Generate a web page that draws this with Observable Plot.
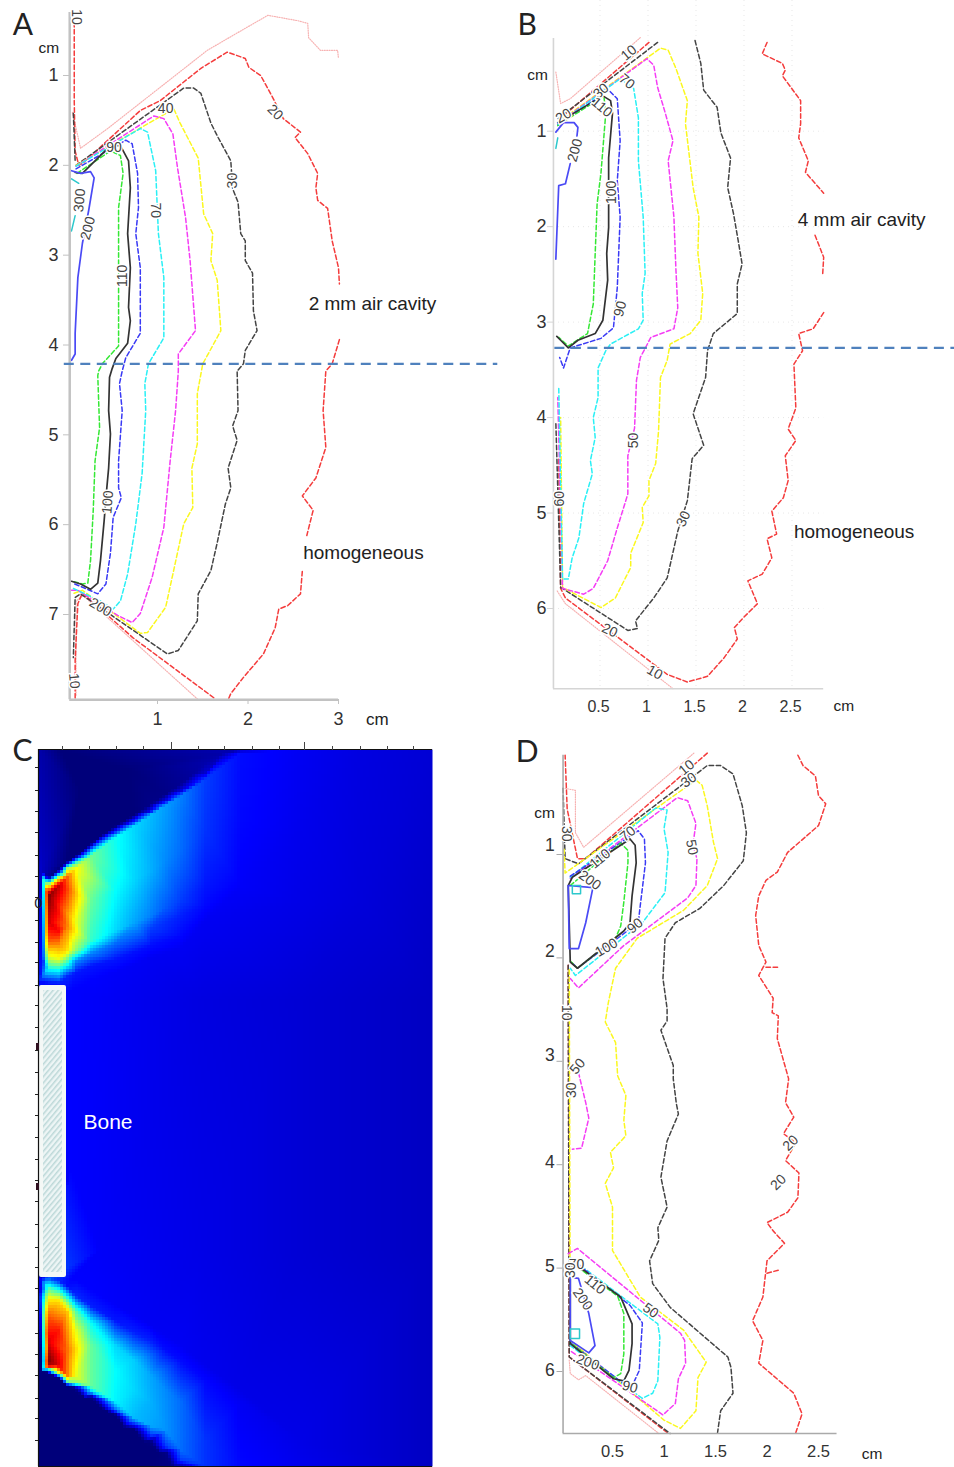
<!DOCTYPE html>
<html><head><meta charset="utf-8">
<script src="https://cdn.jsdelivr.net/npm/d3@7"></script>
<script src="https://cdn.jsdelivr.net/npm/@observablehq/plot@0.6"></script>
<style>html,body{margin:0;padding:0;background:#fff}#page{position:relative;width:954px;height:1467px;overflow:hidden}#page svg{position:absolute;background:transparent;max-width:none}</style>
</head><body><div id="page"></div>
<script>
// Isodose contours, [level, [[x cm, y cm], ...]]
const contoursA = [
 [10,[[.06,1.41],[.15,1.81],[.45,1.59],[1.55,.72],[1.84,.55],[2.22,.33],[2.55,.39],[2.66,.42],[2.67,.58],[2.8,.72],[2.99,.72],[3,.81]]],
 [10,[[.1,7.9],[.1,6.85],[.18,6.79],[1.44,7.94]]],
 [20,[[.08,.41],[.08,1.28],[.09,1.84],[.13,2],[.17,1.98],[.81,1.39],[1.03,1.28],[1.48,.92],[1.77,.74],[1.97,.81],[2.01,.91],[2.14,1],[2.27,1.24],[2.39,1.48],[2.58,1.63],[2.52,1.69],[2.66,1.87],[2.77,2.09],[2.75,2.25],[2.77,2.39],[2.88,2.48],[2.93,2.84],[3,3.14],[3.01,3.32]]],
 [20,[[3.01,3.94],[2.93,4.21],[2.86,4.29],[2.83,4.73],[2.86,5.14],[2.75,5.48],[2.6,5.68],[2.72,5.84],[2.65,6.12]]],
 [20,[[2.6,6.52],[2.58,6.77],[2.44,6.9],[2.34,6.94],[2.3,7.15],[2.17,7.44],[1.95,7.7],[1.81,7.88],[1.78,7.95]]],
 [20,[[.09,7.93],[.09,7.51],[.12,6.88],[.17,6.76],[.73,7.26],[1.64,7.94]]],
 [30,[[.07,1.42],[.09,1.95]]],
 [30,[[.1,2],[1.29,1.14],[1.4,1.14],[1.48,1.2],[1.59,1.53],[1.67,1.69],[1.81,1.95],[1.83,2.26],[1.89,2.41],[1.92,2.76],[1.97,2.84],[1.97,3.06],[2.05,3.2],[2.06,3.62],[2.1,3.84],[1.97,4.06],[1.95,4.21],[1.88,4.29],[1.89,4.73],[1.83,4.9],[1.88,5.06],[1.78,5.37],[1.81,5.59],[1.75,5.77],[1.66,6.2],[1.59,6.51],[1.45,6.77],[1.44,7.07],[1.23,7.4],[1.11,7.44],[.15,6.77],[.09,6.81],[.07,7.48]]],
 [40,[[.1,2],[1.18,1.37],[1.25,1.53],[1.45,1.92],[1.51,2.54],[1.61,2.76],[1.59,3.06],[1.66,3.28],[1.7,3.84],[1.5,4.21],[1.44,4.54],[1.44,5.1],[1.38,5.37],[1.39,5.81],[1.29,5.99],[1.17,6.55],[1.09,6.92],[.89,7.2],[.81,7.21],[.17,6.73],[.06,6.77]]],
 [50,[[.1,2.01],[.96,1.45],[1.07,1.48],[1.17,1.65],[1.22,2.02],[1.31,2.58],[1.36,3.06],[1.42,3.84],[1.23,4.1],[1.23,4.29],[1.2,4.73],[1.14,5.29],[1.07,6.03],[.94,6.59],[.81,6.99],[.72,7.09],[.56,7.01],[.12,6.73],[.05,6.73]]],
 [70,[[.1,2.01],[.81,1.59],[.89,1.63],[.98,2.06],[1.01,2.76],[1.07,3.25],[1.07,3.92],[.9,4.21],[.86,4.43],[.87,4.73],[.83,5.43],[.76,5.99],[.67,6.55],[.59,6.85],[.51,6.94],[.37,6.85],[.07,6.71]]],
 [90,[[.1,2.04],[.65,1.72],[.72,1.76],[.78,2.09],[.79,2.47],[.76,2.76],[.81,3.14],[.81,3.87],[.65,4.14],[.61,4.29],[.58,4.43],[.61,4.73],[.57,5.29],[.57,5.59],[.6,5.7],[.51,5.92],[.48,6.32],[.43,6.66],[.34,6.77],[.18,6.7],[.06,6.65]]],
 [110,[[.11,2.09],[.48,1.84],[.59,1.89],[.62,2.09],[.57,2.47],[.57,3.14],[.57,4.01],[.39,4.21],[.35,4.29],[.34,4.34],[.36,4.92],[.31,5.29],[.29,5.84],[.26,6.4],[.23,6.65],[.17,6.66],[.06,6.63]]],
 [100,[[.09,2.08],[.17,2.09],[.48,1.78],[.59,1.78],[.68,1.95],[.7,2.25],[.67,2.76],[.7,3.14],[.68,3.58],[.7,3.73],[.67,3.98],[.54,4.15],[.5,4.26],[.47,4.36],[.46,4.73],[.48,4.99],[.46,5.37],[.44,5.59],[.41,5.96],[.37,6.4],[.34,6.65],[.26,6.72],[.15,6.66],[.05,6.63]]],
 [200,[[.05,2.06],[.15,2.09],[.26,2.07],[.3,2.14],[.24,2.5],[.17,2.87],[.12,3.25],[.09,3.87],[.09,4.1],[.05,4.17]]],
 [300,[[.05,2.15],[.13,2.2]]],
 [300,[[.09,2.56],[.05,2.73]]]
];
const contoursB = [
 [10,[[.92,.02],[.19,.66],[.09,.71],[.04,.38]]],
 [10,[[1.26,6.84],[.14,5.95],[.05,5.81]]],
 [20,[[2.24,.07],[2.19,.19],[2.4,.29],[2.43,.36],[2.4,.42],[2.59,.68],[2.59,.92],[2.57,1.07],[2.67,1.31],[2.64,1.43],[2.83,1.65]]],
 [20,[[2.74,2.09],[2.83,2.32],[2.82,2.49]]],
 [20,[[2.83,2.9],[2.72,3.07],[2.57,3.12],[2.61,3.3],[2.52,3.44],[2.54,3.9],[2.46,4.12],[2.54,4.24],[2.43,4.4],[2.46,4.66],[2.41,4.84],[2.29,4.98],[2.34,5.22],[2.24,5.27],[2.29,5.47],[2.19,5.64],[2.04,5.71],[2.14,5.95],[1.99,6.1],[1.9,6.2],[1.93,6.32],[1.79,6.52],[1.62,6.71],[1.41,6.77],[1.2,6.69],[.14,5.89],[.09,5.79],[.07,4.42]]],
 [20,[[1.01,.07],[.06,.89]]],
 [30,[[1.49,.05],[1.55,.29],[1.58,.57],[1.72,.75],[1.76,1.02],[1.86,1.28],[1.83,1.59],[1.89,1.86],[1.94,2.15],[1.98,2.39],[1.93,2.6],[1.93,2.91],[1.68,3.12],[1.62,3.3],[1.6,3.58],[1.47,3.96],[1.58,4.29],[1.46,4.43],[1.41,4.87],[1.31,5.19],[1.2,5.68],[1.06,5.89],[.87,6.13],[.89,6.21],[.79,6.23],[.11,5.79],[.09,5.78],[.04,4.05]]],
 [30,[[1.1,.07],[.06,.87]]],
 [40,[[.06,.91],[1.13,.13],[1.21,.15],[1.29,.34],[1.41,.68],[1.39,.92],[1.47,1.59],[1.53,1.9],[1.52,2.28],[1.57,2.7],[1.55,2.98],[1.44,3.12],[1.23,3.23],[1.2,3.4],[1.13,3.58],[1.11,4.14],[1.08,4.48],[1.01,4.66],[1.01,4.82],[.94,4.94],[.95,5.1],[.82,5.42],[.82,5.57],[.66,5.89],[.51,5.99],[.11,5.78],[.09,4]]],
 [50,[[.06,.92],[.99,.24],[1.06,.31],[1.1,.54],[1.18,.81],[1.26,1.1],[1.21,1.31],[1.27,1.9],[1.29,2.43],[1.31,2.85],[1.27,3.07],[1.03,3.16],[.92,3.37],[.88,3.61],[.86,4.11],[.79,4.4],[.79,4.8],[.67,5.19],[.58,5.5],[.43,5.79],[.33,5.85],[.11,5.79],[.06,3.79]]],
 [70,[[.06,.93],[.71,.45],[.85,.55],[.9,.86],[.9,1.31],[.95,1.9],[.97,2.49],[.94,2.7],[.95,2.98],[.9,3.07],[.61,3.23],[.56,3.3],[.48,3.48],[.48,3.79],[.43,4],[.45,4.21],[.4,4.45],[.42,4.59],[.33,4.9],[.28,5.26],[.21,5.47],[.17,5.69],[.11,5.69],[.07,3.67]]],
 [90,[[.06,.94],[.59,.57],[.68,.66],[.71,1.1],[.68,1.52],[.71,1.9],[.68,2.64],[.64,3.06],[.51,3.17],[.19,3.27],[.12,3.48],[.08,3.37]]],
 [110,[[.06,.94],[.54,.63],[.56,.81],[.51,1.44],[.47,1.76],[.45,2.28],[.43,2.81],[.37,3.12],[.17,3.25],[.07,3.16]]],
 [100,[[.06,.91],[.53,.63],[.61,.68],[.63,.81],[.59,1.28],[.59,2.01],[.57,2.28],[.58,2.56],[.53,2.98],[.45,3.12],[.27,3.19],[.17,3.27],[.09,3.19],[.05,3.15]]],
 [200,[[.04,1.01],[.12,.91],[.23,.91],[.27,.96],[.26,1.05]]],
 [200,[[.19,1.34],[.14,1.55],[.07,1.57],[.04,2.34]]],
 [300,[[.04,1.18],[.06,1.07]]]
];
const contoursD = [
 [10,[[.04,.36],[.14,.38],[.14,.79],[.22,.93],[1.29,.02]]],
 [10,[[.08,5.89],[.09,6.02],[.17,6.08],[.24,6.04],[.95,6.6]]],
 [20,[[2.3,.04],[2.35,.14],[2.47,.24],[2.5,.43],[2.57,.51],[2.5,.72],[2.2,.98],[2.1,1.17],[1.99,1.25],[1.92,1.4],[1.89,1.59],[1.92,1.88],[1.99,2.04],[1.92,2.17],[2.06,2.39],[2.05,2.53],[2.11,2.56],[2.1,2.78],[2.21,3.17],[2.18,3.4],[2.26,3.54],[2.16,3.7],[2.28,3.79],[2.18,3.96],[2.31,4.08],[2.3,4.32],[2.2,4.46],[2,4.56],[2.06,4.64],[2.17,4.76],[2,4.93],[1.96,5.28],[1.86,5.51],[1.96,5.7],[1.92,5.92],[2.26,6.21],[2.34,6.41],[2.28,6.59]]],
 [20,[[1.99,2.09],[2.11,2.09]]],
 [20,[[2,5.05],[2.11,5.02]]],
 [20,[[1.42,.02],[.24,1.04],[.16,1.04],[.06,.56],[.04,.04]]],
 [20,[[.07,2.07],[.08,5.86],[1.03,6.59]]],
 [30,[[.02,.36],[.04,1.04],[.17,1.09],[1.42,.14],[1.55,.14],[1.67,.22],[1.76,.53],[1.8,.79],[1.77,1.06],[1.58,1.3],[1.35,1.52],[1.11,1.66],[1.01,1.81],[.99,2.2],[1.03,2.49],[1.03,2.61],[.97,2.7],[1.09,3.04],[1.09,3.17],[1.12,3.41],[1.14,3.51],[1.03,3.77],[.97,4.12],[1.03,4.41],[.94,4.61],[.95,4.73],[.86,4.93],[.89,5.15],[1.06,5.38],[1.62,5.86],[1.65,5.96],[1.67,6.21],[1.55,6.38],[1.52,6.59]]],
 [30,[[.07,2.07],[.08,5.86],[1.06,6.6]]],
 [40,[[.03,.95],[.04,1.18],[1.31,.28],[1.37,.33],[1.42,.53],[1.48,.88],[1.52,1.04],[1.42,1.3],[1.19,1.54],[.74,1.81],[.53,2.1],[.46,2.43],[.43,2.62],[.53,2.82],[.55,3.14],[.63,3.33],[.61,3.57],[.63,3.72],[.48,3.88],[.51,4.03],[.43,4.18],[.5,4.41],[.5,4.83],[.77,5.28],[1.19,5.6],[1.41,5.91],[1.33,6.06],[1.31,6.38],[1.16,6.55],[1,6.47],[.09,5.7],[.08,2.1]]],
 [50,[[.09,1.23],[1.13,.45],[1.23,.48],[1.31,.7],[1.28,.91],[1.32,1.04],[1.31,1.3],[1.23,1.42],[.61,1.88],[.17,2.29],[.09,2.2]]],
 [50,[[.17,3.11],[.24,3.4],[.27,3.55],[.2,3.84],[.11,3.85]]],
 [50,[[.07,4.86],[.16,4.81],[1.16,5.63],[1.2,5.7],[1.21,5.92],[1.14,6.07],[1.11,6.31],[.99,6.42],[.09,5.8]]],
 [70,[[.09,1.22],[.92,.55],[1.03,.57],[1,.75],[1.04,.98],[1.01,1.37],[.79,1.66],[.14,2.17],[.09,2.1]]],
 [70,[[.09,4.9],[.94,5.54],[.96,5.67],[.94,6.09],[.89,6.21],[.79,6.26],[.09,5.75]]],
 [90,[[.09,1.21],[.75,.77],[.81,.85],[.82,1.08],[.77,1.49],[.75,1.66],[.55,1.81],[.16,2.1],[.09,2.03]]],
 [90,[[.12,4.93],[.67,5.36],[.79,5.53],[.76,5.99],[.7,6.12],[.61,6.12],[.09,5.72]]],
 [110,[[.09,1.3],[.58,.89],[.65,.96],[.65,1.08],[.61,1.46],[.58,1.69],[.53,1.81],[.16,2.1],[.09,2.03]]],
 [110,[[.16,4.99],[.55,5.27],[.61,5.44],[.61,5.83],[.58,6.02],[.51,6.06],[.09,5.72]]],
 [100,[[.07,1.3],[.11,1.22],[.67,.85],[.72,.91],[.73,1.08],[.69,1.4],[.67,1.66],[.61,1.74],[.16,2.1],[.09,2.04],[.07,1.3]]],
 [100,[[.09,4.96],[.22,5.02],[.58,5.28],[.69,5.54],[.69,5.73],[.66,5.99],[.61,6.09],[.51,6.07],[.09,5.73],[.09,4.96]]],
 [200,[[.07,1.3],[.31,1.32],[.24,1.66],[.17,1.91],[.08,1.91],[.07,1.3]]],
 [200,[[.09,5.09],[.17,5.1],[.27,5.44],[.33,5.75],[.27,5.82],[.09,5.7],[.09,5.09]]],
 [300,[[.11,1.3],[.19,1.3],[.19,1.38],[.11,1.38],[.11,1.3]]],
 [300,[[.09,5.59],[.18,5.59],[.18,5.68],[.09,5.68],[.09,5.59]]]
];
// Contour labels [text, x, y, rotation]
const labelsA = [["10",.1,.35,90],["20",2.3,1.41,45],["30",1.83,2.17,-90],["40",1.09,1.37,0],["90",.52,1.8,0],["70",.98,2.5,90],["110",.61,3.23,-90],["300",.14,2.39,-85],["200",.23,2.7,-75],["100",.45,5.75,-85],["200",.37,6.92,30],["10",.08,7.74,85]];
const labelsB = [["10",.8,.18,-40],["70",.78,.48,40],["20",.12,.84,-30],["30",.51,.58,-40],["110",.52,.75,40],["200",.24,1.2,-75],["100",.62,1.64,-90],["90",.71,2.86,-75],["50",.85,4.24,-90],["30",1.37,5.06,-65],["20",.6,6.23,25],["10",1.07,6.67,30],["60",.08,4.85,-90]];
const labelsD = [["10",1.22,.16,-40],["30",1.24,.28,-35],["50",1.27,.93,80],["70",.65,.8,-40],["110",.38,1.04,-40],["200",.28,1.25,35],["90",.72,1.69,-40],["100",.44,1.9,-30],["30",.05,.8,90],["10",.05,2.53,90],["50",.16,3.05,-50],["30",.1,3.28,-90],["20",2.23,3.79,-45],["20",2.11,4.17,-45],["70",.15,4.97,0],["30",.09,5.02,-90],["110",.33,5.16,40],["200",.21,5.3,55],["50",.87,5.41,35],["200",.26,5.91,20],["90",.67,6.15,15]];
// Notes [text, x, y, size, anchor]
const notesA = [["A",-.6,.44,30,"start"],["cm",-.2,.69,15.5,"middle"],["2 mm air cavity",2.67,3.54,19,"start"],["homogeneous",2.61,6.31,19,"start"],["cm",3.43,8.17,17,"middle"]];
const notesB = [["B",-.36,-.11,30,"start"],["cm",-.15,.416,15.5,"middle"],["4 mm air cavity",2.56,1.93,19,"start"],["homogeneous",2.52,5.2,19,"start"],["cm",3.04,7.02,15.5,"middle"]];
const notesD = [["D",-.44,.01,30,"start"],["cm",-.16,.6,15.5,"middle"],["cm",3.02,6.8,15.5,"middle"]];
const ticksAy=[1,2,3,4,5,6,7], ticksAx=[1,2,3];
const ticksBy=[1,2,3,4,5,6], ticksBx=[.5,1,1.5,2,2.5];
const ticksDy=[1,2,3,4,5,6], ticksDx=[.5,1,1.5,2,2.5];
const tickLabelPosDy=[.913,1.938,2.944,3.979,4.985,5.99];
const cavityA=4.21, cavityB=3.27;
// Panel C: sampled dose field, [grid x, grid y, relative dose]
const fieldUpper = [
[9,135,.55],[9,146,1],[9,171,.92],[9,191,.78],[9,206,.6],[9,219,.38],[9,231,.15],
[20,128,.6],[20,135,.93],[20,181,.87],[20,196,.72],[20,209,.6],[20,219,.4],[20,233,.14],
[28,119,.55],[28,127,.78],[28,176,.75],[28,201,.65],[28,213,.42],[28,226,.15],
[37,113,.45],[37,119,.62],[37,171,.6],[37,201,.5],[37,211,.25],[37,223,.13],
[52,101,.3],[52,106,.48],[52,151,.47],[52,191,.42],[52,203,.25],[52,216,.13],
[77,83,.2],[77,87,.38],[77,141,.37],[77,181,.33],[77,193,.22],[77,209,.13],
[95,72,.15],[95,76,.33],[95,130,.33],[95,173,.28],
[112,61,.1],[112,65,.3],[112,121,.29],[112,166,.24],[112,179,.17],[112,196,.12],
[127,51,.09],[127,55,.27],[127,110,.25],[127,158,.2],
[142,41,.08],[142,46,.24],[142,101,.22],[142,151,.17],[142,166,.14],[142,186,.115],
[167,23,.07],[167,29,.17],[167,81,.16],[167,136,.13],[167,156,.115],
[202,0,.05],[202,3,.12],[202,71,.115],[202,136,.105],
[262,0,.1],[262,81,.095],[262,151,.09],[322,0,.085],[322,151,.08],[394,0,.075],[394,251,.06]];
const fieldAboveBeam = [[22,0,0],[0,0,.04],[9,128,.02],[20,120,0],[28,112,0],[37,106,0],[45,100,0],[52,94,0],[65,84,0],[77,76,0],[95,65,0],[112,54,.01],[127,44,.01],[142,34,.02],[155,24,.03],[167,13,.04],[185,3,.04],[40,40,0],[90,20,0],[2,121,.06],[0,231,.12],[4,211,.14]];
const fieldBetween = [[17,236,.12],[32,241,.11],[32,320,.11],[32,420,.11],[32,528,.11],[52,230,.11],[60,350,.105],[60,500,.105],[77,222,.105],[112,208,.1],[142,198,.1],[167,170,.1],[82,251,.1],[82,451,.1],[100,530,.1],[162,251,.085],[162,501,.09],[262,251,.075],[262,501,.075],[394,501,.06],[394,717,.06]];
const fieldLower = [
[9,528,.2],[9,538,.45],[9,548,.62],[9,566,.78],[9,591,.9],[9,609,1],[9,616,.95],[9,619,.4],[9,623,0],
[20,531,.15],[20,541,.42],[20,551,.65],[20,581,.85],[20,616,.9],[20,623,.6],[20,628,0],
[28,536,.12],[28,548,.42],[28,561,.68],[28,601,.77],[28,626,.75],[28,631,.5],[28,636,0],
[37,530,.11],[37,546,.15],[37,561,.45],[37,581,.6],[37,626,.6],[37,633,.5],[37,638,.02],
[52,540,.11],[52,556,.14],[52,573,.38],[52,596,.47],[52,636,.47],[52,642,.3],[52,647,0],
[77,555,.105],[77,571,.13],[77,596,.33],[77,621,.37],[77,652,.36],[77,660,.22],[77,665,0],
[95,582,.14],[95,610,.32],[95,640,.33],[95,668,.3],[95,674,.15],[95,679,0],
[112,575,.1],[112,591,.14],[112,626,.28],[112,651,.29],[112,676,.28],[112,686,.15],[112,691,.01],
[127,600,.12],[127,640,.25],[127,680,.26],[127,697,.16],[127,702,.01],
[142,595,.1],[142,611,.12],[142,651,.22],[142,700,.22],[142,710,.17],[142,716,.05],
[167,615,.095],[167,631,.115],[167,691,.16],[167,717,.16],[202,640,.09],[202,651,.1],[202,717,.115],[262,691,.09],[262,717,.095]];
const fieldBelowBeam = [[0,717,0],[0,541,.02],[2,621,0],[45,648,0],[65,660,0],[85,677,0],[105,692,0],[120,703,0],[82,705,0],[62,717,0],[112,717,0],[134,717,.01],[0,528,.05]];
const ticksCx=[24,51,78,105,133,160,186,214,241,266,294,322,349,375];
const ticksCxLong=[133,266];
const ticksCy=[18,41,62,83,106,127,148,171,193,213,236,256,278,301,323,345,366,388,410,431,452,475,498,518,539,561,584,605,626,649,669,691];
const jetStops=[0,.11,.37,.62,.87,1];
const jetColors=["#00007a","#0000ff","#00ffff","#ffff00","#ff0000","#7a0000"];

const dash="4.5,2.6";
const styles={
 10:{stroke:"#f7b2b2",strokeWidth:1.2,strokeDasharray:"1,1.4"},
 20:{stroke:"#f43c3c",strokeWidth:1.5,strokeDasharray:dash},
 30:{stroke:"#444",strokeWidth:1.5,strokeDasharray:dash},
 40:{stroke:"#fbf81e",strokeWidth:1.5,strokeDasharray:dash},
 50:{stroke:"#f53df5",strokeWidth:1.5,strokeDasharray:dash},
 70:{stroke:"#2af0f5",strokeWidth:1.5,strokeDasharray:dash},
 90:{stroke:"#3a3af5",strokeWidth:1.5,strokeDasharray:dash},
 100:{stroke:"#333",strokeWidth:1.7},
 110:{stroke:"#35e835",strokeWidth:1.5,strokeDasharray:dash},
 200:{stroke:"#4a4af5",strokeWidth:1.7},
 300:{stroke:"#2cc8cc",strokeWidth:1.5}
};
const font="Liberation Sans, Arial, sans-serif";
const contourMarks=c=>c.map(([lev,pts])=>Plot.line(pts,{x:d=>d[0],y:d=>d[1],...styles[lev]}));
const labelMark=l=>Plot.text(l,{x:d=>d[1],y:d=>d[2],text:d=>d[0],rotate:d=>d[3],fontSize:14,fill:"#444",stroke:"white",strokeWidth:3,paintOrder:"stroke",fontFamily:font});
const noteMarks=n=>n.map(d=>Plot.text([d],{x:e=>e[1],y:e=>e[2],text:e=>e[0],fontSize:d[3],textAnchor:d[4],fill:"#222",fontFamily:d[3]>25?"Lato, sans-serif":font}));
function place(svg,left,top,host){svg.style.left=left+"px";svg.style.top=top+"px";host.appendChild(svg);}
const page=document.getElementById("page");

function axisMarks(o){
 return [
  Plot.ruleX([o.ax],{y1:o.top,y2:o.bottom,stroke:o.axisColor,strokeWidth:o.axisWidth}),
  Plot.ruleY([o.bottom],{x1:o.ax,x2:o.right,stroke:o.axisColor,strokeWidth:o.axisWidth}),
  Plot.axisX({ticks:o.xt,tickFormat:d=>String(d),label:null,tickSize:o.xTick,stroke:o.axisColor,fill:"#333",fontSize:o.xFont,tickPadding:o.xPad,dx:o.xDx||0,fontFamily:font}),
  o.yLabels
   ? [Plot.axisY({ticks:o.yt,tickFormat:()=>"",label:null,tickSize:6,stroke:o.axisColor,fill:"none"}),
      Plot.text(o.yt,{x:o.yLabelX,y:(d,i)=>o.yLabels[i],text:d=>String(d),textAnchor:"end",fontSize:o.yFont,fill:"#333",fontFamily:font})]
   : Plot.axisY({ticks:o.yt,tickFormat:d=>String(d),label:null,tickSize:6,stroke:o.axisColor,fill:"#333",fontSize:o.yFont,tickPadding:o.yPad,fontFamily:font})
 ];
}
// Panel A
place(Plot.plot({width:500,height:735,marginLeft:69,marginTop:0,marginRight:0,marginBottom:36,
 style:{fontFamily:font,background:"transparent",overflow:"visible"},
 x:{domain:[0,3],range:[66.5,338]},y:{domain:[1,7],range:[75,614]},
 marks:[...contourMarks(contoursA),
  axisMarks({ax:.03,top:.3,bottom:7.95,right:3,axisColor:"#c2c2c2",axisWidth:2.5,xt:ticksAx,yt:ticksAy,xTick:5,xFont:18,yFont:18,xPad:8,yPad:5}),
  Plot.ruleY([cavityA],{x1:-.03,x2:4.76,stroke:"#4f81bd",strokeWidth:2.2,strokeDasharray:"10,6.5"}),
  labelMark(labelsA),...noteMarks(notesA)]}),0,0,page);
// Panel B
place(Plot.plot({width:454,height:735,marginLeft:53,marginTop:0,marginRight:0,marginBottom:47,
 style:{fontFamily:font,background:"transparent",overflow:"visible"},
 x:{domain:[0,2.5],range:[51.5,291.5]},y:{domain:[1,6],range:[130.7,608]},
 marks:[
  Plot.gridX({ticks:ticksBx,stroke:"#ddd",strokeOpacity:.7,strokeDasharray:"1,4"}),
  Plot.gridY({ticks:ticksBy,stroke:"#ddd",strokeOpacity:.7,strokeDasharray:"1,4",x2:2.83}),
  ...contourMarks(contoursB),
  axisMarks({ax:.015,top:.03,bottom:6.84,right:2.83,axisColor:"#d5d5d5",axisWidth:1.6,xt:ticksBx,yt:ticksBy,xTick:0,xFont:16,yFont:18,xPad:12,yPad:1,xDx:-1.5}),
  Plot.ruleY([cavityB],{x1:.03,x2:4.2,stroke:"#4f81bd",strokeWidth:2.2,strokeDasharray:"10,6.5"}),
  labelMark(labelsB),...noteMarks(notesB)]}),500,0,page);
// Panel C
const field=[...fieldUpper,...fieldAboveBeam,...fieldBetween,...fieldLower,...fieldBelowBeam];
const hatch=()=>{
 const defs=d3.create("svg:defs");
 const p=defs.append("pattern").attr("id","hatchBone").attr("width",4).attr("height",4).attr("patternUnits","userSpaceOnUse").attr("patternTransform","rotate(-50)");
 p.append("rect").attr("width",4).attr("height",4).attr("fill","#edf5f5");
 p.append("rect").attr("width",4).attr("height",1.5).attr("fill","#bcd8d8");
 return defs.node();
};
place(Plot.plot({width:450,height:732,marginLeft:38,marginTop:14,marginRight:18,marginBottom:1,
 style:{fontFamily:font,background:"transparent",overflow:"visible"},
 x:{domain:[0,394],range:[38,432]},y:{domain:[0,717],range:[14,731]},
 color:{type:"linear",domain:jetStops,range:jetColors},
 marks:[hatch,
  Plot.raster(field,{x:d=>d[0],y:d=>d[1],fill:d=>d[2],x1:0,x2:394,y1:0,y2:717,interpolate:"barycentric",pixelSize:3,imageRendering:"pixelated"}),
  Plot.rect([0],{x1:1,x2:28,y1:236,y2:528,fill:"#f4f8f6",rx:2}),
  Plot.rect([0],{x1:5,x2:24,y1:241,y2:523,fill:"url(#hatchBone)"}),
  Plot.ruleX([0],{y1:0,y2:717,stroke:"#111",strokeWidth:1.2}),
  Plot.ruleY([0,717],{x1:0,x2:394,stroke:"#111",strokeWidth:1.2}),
  Plot.ruleX([-1],{y1:294,y2:301,stroke:"#301020",strokeWidth:3}),
  Plot.ruleX([-1],{y1:434,y2:441,stroke:"#301020",strokeWidth:3}),
  Plot.axisX({anchor:"top",ticks:ticksCx,tickFormat:()=>"",label:null,tickSize:4,stroke:"#444",fill:"none"}),
  Plot.axisX({anchor:"top",ticks:ticksCxLong,tickFormat:()=>"",label:null,tickSize:8,stroke:"#444",fill:"none"}),
  Plot.axisY({anchor:"left",ticks:ticksCy,tickFormat:()=>"",label:null,tickSize:3,stroke:"#222",fill:"none"}),
  Plot.text([["0",0,154]],{x:d=>d[1],y:d=>d[2],text:d=>d[0],fontSize:15,fill:"#223",fontFamily:font}),
  Plot.text([["C",-26,2]],{x:d=>d[1],y:d=>d[2],text:d=>d[0],textAnchor:"start",fontSize:30,fill:"#222",fontFamily:"Lato, sans-serif"}),
  Plot.text([["Bone",45,373]],{x:d=>d[1],y:d=>d[2],text:d=>d[0],textAnchor:"start",fontSize:21,fill:"#fff",fontFamily:font})
 ]}),0,735,page);
// Panel D
place(Plot.plot({width:454,height:732,marginLeft:62.5,marginTop:0,marginRight:0,marginBottom:34,
 style:{fontFamily:font,background:"transparent",overflow:"visible"},
 x:{domain:[0,2.5],range:[60.5,318]},y:{domain:[1,6],range:[119,636]},
 marks:[...contourMarks(contoursD),
  axisMarks({ax:.02,top:.04,bottom:6.6,right:2.68,axisColor:"#aaa",axisWidth:1.6,xt:ticksDx,yt:ticksDy,xTick:0,xFont:16.5,yFont:17.5,xPad:12,yLabels:tickLabelPosDy,yLabelX:-.06}),
  labelMark(labelsD),...noteMarks(notesD)]}),500,735,page);
</script></body></html>
